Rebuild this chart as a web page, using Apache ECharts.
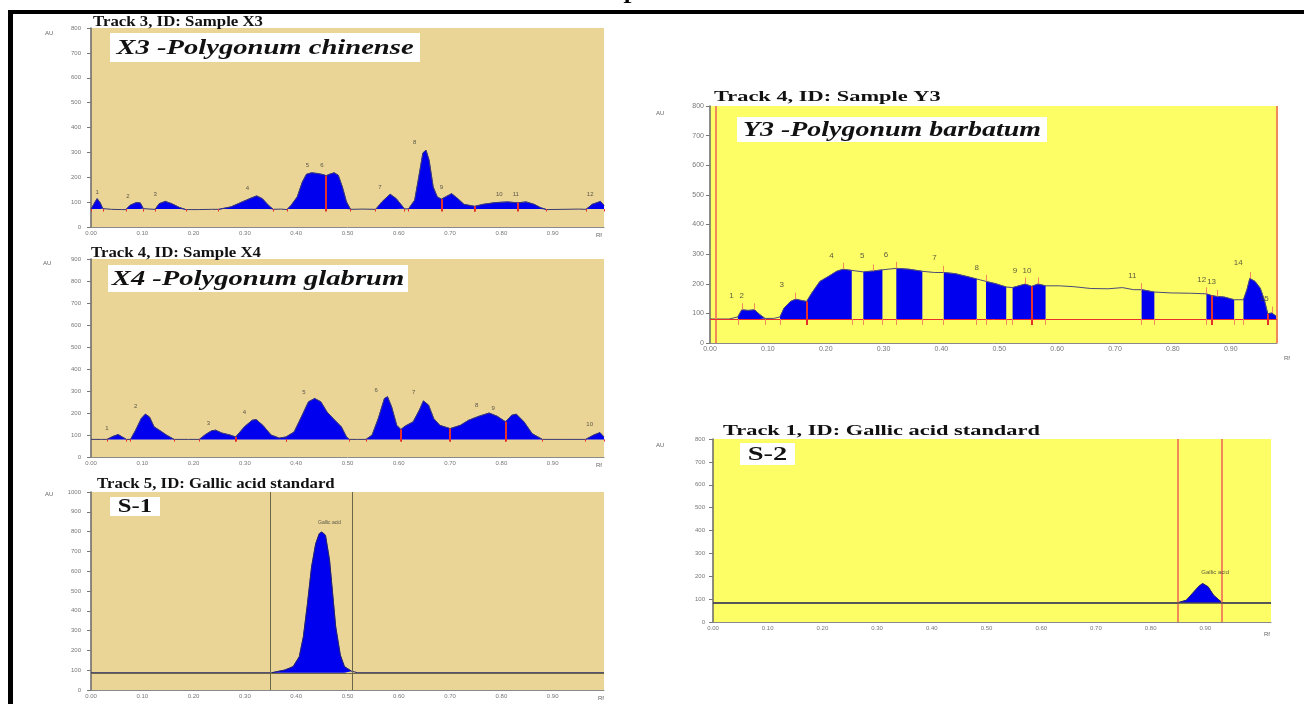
<!DOCTYPE html>
<html>
<head>
<meta charset="utf-8">
<script src="https://cdn.jsdelivr.net/npm/echarts@6/dist/echarts.min.js"></script>
<style>
  html, body { margin: 0; padding: 0; background: #fff; }
  #chart { width: 1304px; height: 704px; }
</style>
</head>
<body>
<div id="chart"></div>
<script>
// ---------- tick labels ----------
const rfTickLabels = ['0.00', '0.10', '0.20', '0.30', '0.40', '0.50', '0.60', '0.70', '0.80', '0.90']
const auTickLabels = ['0', '100', '200', '300', '400', '500', '600', '700', '800', '900', '1000']

// ---------- X3 Polygonum chinense ----------
const x3Rf = [0.0, 0.008, 0.012, 0.018, 0.023, 0.04, 0.06, 0.068, 0.076, 0.088, 0.096, 0.102, 0.115, 0.125, 0.133, 0.145, 0.157, 0.173, 0.185, 0.21, 0.235, 0.249, 0.273, 0.297, 0.314, 0.323, 0.334, 0.346, 0.355, 0.37, 0.382, 0.39, 0.402, 0.412, 0.42, 0.43, 0.442, 0.454, 0.458, 0.465, 0.474, 0.482, 0.49, 0.498, 0.506, 0.53, 0.555, 0.567, 0.583, 0.595, 0.611, 0.619, 0.631, 0.639, 0.647, 0.653, 0.659, 0.667, 0.675, 0.683, 0.691, 0.703, 0.715, 0.727, 0.748, 0.764, 0.788, 0.812, 0.832, 0.848, 0.864, 0.876, 0.888, 0.92, 0.95, 0.965, 0.977, 0.993, 1.0]
const x3Au = [72, 101, 114, 97, 74, 71, 70, 70, 87, 98, 97, 74, 72, 71, 94, 103, 94, 78, 70, 70, 71, 71, 81, 103, 118, 125, 114, 87, 71, 72, 70, 87, 121, 181, 212, 218, 215, 210, 206, 212, 218, 208, 161, 101, 71, 72, 71, 101, 132, 114, 73, 73, 108, 202, 298, 309, 269, 161, 121, 112, 121, 134, 114, 91, 83, 91, 98, 101, 97, 101, 91, 78, 70, 71, 72, 71, 91, 103, 87]
const x3Windows = [[0.0, 0.023], [0.068, 0.102], [0.125, 0.185], [0.249, 0.355], [0.382, 0.506], [0.555, 0.611], [0.619, 0.748], [0.748, 0.888], [0.965, 1.0]]
const x3Splits = [0.458, 0.683, 0.748, 0.832]
const x3PeakRf = [0.012, 0.072, 0.125, 0.305, 0.422, 0.45, 0.563, 0.631, 0.683, 0.796, 0.828, 0.973]
const x3PeakAu = [140, 124, 132, 155, 249, 249, 161, 339, 161, 130, 130, 130]
const x3PeakNames = ['1', '2', '3', '4', '5', '6', '7', '8', '9', '10', '11', '12']

// ---------- X4 Polygonum glabrum ----------
const x4Rf = [0.0, 0.02, 0.031, 0.043, 0.053, 0.061, 0.069, 0.077, 0.087, 0.098, 0.106, 0.114, 0.123, 0.135, 0.147, 0.162, 0.19, 0.211, 0.223, 0.235, 0.243, 0.255, 0.271, 0.282, 0.299, 0.314, 0.322, 0.335, 0.351, 0.367, 0.38, 0.396, 0.41, 0.424, 0.436, 0.448, 0.46, 0.472, 0.488, 0.498, 0.504, 0.52, 0.536, 0.548, 0.56, 0.572, 0.578, 0.586, 0.596, 0.604, 0.612, 0.628, 0.64, 0.648, 0.658, 0.668, 0.68, 0.7, 0.72, 0.736, 0.756, 0.776, 0.792, 0.808, 0.82, 0.829, 0.844, 0.86, 0.88, 0.92, 0.964, 0.98, 0.992, 1.0]
const x4Au = [80, 80, 80, 94, 102, 91, 80, 80, 122, 175, 195, 182, 137, 119, 100, 80, 80, 80, 102, 119, 122, 109, 100, 91, 137, 167, 170, 144, 100, 86, 91, 114, 182, 251, 266, 251, 205, 175, 137, 91, 80, 80, 80, 100, 175, 266, 274, 228, 144, 125, 140, 160, 213, 255, 236, 175, 144, 129, 144, 167, 185, 200, 185, 160, 190, 195, 160, 106, 80, 80, 80, 100, 111, 91]
const x4Windows = [[0.031, 0.069], [0.077, 0.162], [0.211, 0.282], [0.282, 0.38], [0.38, 0.504], [0.536, 0.604], [0.604, 0.7], [0.7, 0.808], [0.808, 0.88], [0.964, 1.0]]
const x4Splits = [0.282, 0.604, 0.7, 0.808]
const x4PeakRf = [0.031, 0.087, 0.229, 0.299, 0.415, 0.556, 0.629, 0.752, 0.784, 0.972]
const x4PeakAu = [132, 228, 155, 205, 296, 304, 292, 236, 223, 147]
const x4PeakNames = ['1', '2', '3', '4', '5', '6', '7', '8', '9', '10']

// ---------- S-1 Gallic acid standard (track 5) ----------
const s1Rf = [0.0, 0.3, 0.352, 0.378, 0.394, 0.406, 0.414, 0.422, 0.43, 0.438, 0.445, 0.45, 0.457, 0.465, 0.471, 0.477, 0.486, 0.494, 0.508, 0.52, 1.0]
const s1Au = [87, 87, 87, 101, 118, 168, 269, 437, 622, 739, 790, 798, 782, 655, 487, 319, 176, 118, 95, 87, 87]
const s1Windows = [[0.352, 0.508]]
const s1Lines = [0.352, 0.508]

// ---------- Y3 Polygonum barbatum ----------
const y3Rf = [0.0, 0.033, 0.048, 0.055, 0.066, 0.077, 0.086, 0.095, 0.11, 0.121, 0.128, 0.139, 0.148, 0.157, 0.167, 0.176, 0.19, 0.205, 0.219, 0.23, 0.245, 0.265, 0.282, 0.298, 0.322, 0.344, 0.367, 0.388, 0.404, 0.424, 0.443, 0.461, 0.477, 0.494, 0.512, 0.523, 0.545, 0.556, 0.567, 0.58, 0.604, 0.629, 0.658, 0.688, 0.713, 0.732, 0.746, 0.768, 0.797, 0.83, 0.858, 0.867, 0.876, 0.889, 0.906, 0.922, 0.928, 0.933, 0.942, 0.951, 0.958, 0.964, 0.971, 0.979, 0.984]
const y3Au = [81, 81, 88, 112, 110, 112, 96, 83, 83, 88, 118, 140, 148, 144, 140, 169, 208, 225, 242, 249, 245, 240, 243, 247, 252, 249, 242, 238, 238, 234, 225, 216, 208, 200, 189, 187, 199, 191, 199, 193, 193, 190, 184, 183, 187, 180, 180, 172, 169, 168, 166, 160, 157, 155, 146, 146, 180, 218, 208, 185, 146, 99, 101, 90, 83]
const y3Windows = [[0.048, 0.095], [0.121, 0.167], [0.167, 0.245], [0.265, 0.298], [0.322, 0.367], [0.404, 0.461], [0.477, 0.512], [0.523, 0.58], [0.746, 0.768], [0.858, 0.906], [0.922, 0.964], [0.964, 0.984]]
const y3Splits = [0.167, 0.556, 0.867, 0.964]
const y3Lines = [0.013, 0.98]
const y3ApexRf = [0.055, 0.077, 0.148, 0.23, 0.282, 0.322, 0.404, 0.477, 0.545, 0.567, 0.746, 0.858, 0.876, 0.933, 0.971]
const y3PeakRf = [0.037, 0.055, 0.124, 0.21, 0.263, 0.304, 0.388, 0.461, 0.527, 0.548, 0.73, 0.85, 0.867, 0.913, 0.958]
const y3PeakAu = [160, 160, 197, 294, 294, 297, 287, 253, 245, 245, 227, 213, 208, 270, 148]
const y3PeakNames = ['1', '2', '3', '4', '5', '6', '7', '8', '9', '10', '11', '12', '13', '14', '15']

// ---------- S-2 Gallic acid standard (track 1) ----------
const s2Rf = [0.0, 0.8, 0.848, 0.865, 0.876, 0.888, 0.895, 0.905, 0.915, 0.927, 0.934, 1.02]
const s2Au = [83, 83, 83, 95, 124, 156, 168, 154, 117, 92, 83, 83]
const s2Windows = [[0.848, 0.934]]
const s2Lines = [0.848, 0.934]

// ---------- styles ----------
const TAN = '#ead596'
const YELLOW = '#fdfd66'
const BLUE = '#0000ee'
const RED = '#e8302a'
const ORANGE = '#f08a5a'

const grids = [
    { left: 91, top: 28, width: 513, height: 199, bg: TAN },   // X3
    { left: 91, top: 259, width: 513, height: 198, bg: TAN },  // X4
    { left: 91, top: 492, width: 513, height: 198, bg: TAN },  // S-1
    { left: 710, top: 106, width: 567, height: 237, bg: YELLOW }, // Y3
    { left: 713, top: 439, width: 558, height: 183, bg: YELLOW }  // S-2
]
const xMax = [1.0, 1.0, 1.0, 0.98, 1.02]
const yMax = [800, 900, 1000, 800, 800]
const labelSize = [6, 6, 6, 7, 6]
const labelMargin = [10, 10, 10, 6, 8]

function zip(a, b) {
    return a.map((v, i) => [v, b[i]])
}

function auAt(rf, au, x) {
    return au[rf.indexOf(x)]
}

let series = []

function addTrace(gi, rf, au, windows, base, lineColor) {
    let pts = zip(rf, au)
    windows.forEach(w => {
        series.push({
            type: 'line', xAxisIndex: gi, yAxisIndex: gi, symbol: 'none', silent: true,
            data: pts.filter(p => p[0] >= w[0] - 1e-9 && p[0] <= w[1] + 1e-9),
            lineStyle: { width: 0.6, color: BLUE },
            areaStyle: { color: BLUE, opacity: 1, origin: base },
            z: 3
        })
    })
    series.push({
        type: 'line', xAxisIndex: gi, yAxisIndex: gi, symbol: 'none', silent: true,
        data: pts, lineStyle: { width: 1, color: lineColor }, z: 4
    })
}

function markSeries(gi, color, width, data) {
    series.push({
        type: 'line', xAxisIndex: gi, yAxisIndex: gi, data: [], silent: true,
        markLine: { symbol: 'none', silent: true, animation: false, label: { show: false }, lineStyle: { color: color, width: width, type: 'solid' }, data: data }
    })
}

function addMarks(gi, rf, au, windows, splits, base, tickColor, tickLen) {
    let lines = []
    // little brackets under the baseline at each window edge
    windows.forEach(w => {
        w.forEach(e => lines.push([{ coord: [e, base] }, { coord: [e, base - tickLen] }]))
    })
    markSeries(gi, tickColor, 1, lines)
    // red separators from below the baseline up to the curve
    markSeries(gi, RED, 2, splits.map(s => [{ coord: [s, base - tickLen] }, { coord: [s, auAt(rf, au, s)] }]))
}

function addPeakNames(gi, rf, au, names, size) {
    series.push({
        type: 'scatter', xAxisIndex: gi, yAxisIndex: gi, symbolSize: 1, silent: true,
        itemStyle: { color: 'rgba(0,0,0,0)' }, z: 6,
        data: zip(rf, au),
        label: { show: true, position: 'inside', fontSize: size, color: '#333', fontFamily: 'Liberation Sans', formatter: p => names[p.dataIndex] }
    })
}

// X3
addTrace(0, x3Rf, x3Au, x3Windows, 72, '#3a3a70')
addMarks(0, x3Rf, x3Au, x3Windows, x3Splits, 72, RED, 10)
addPeakNames(0, x3PeakRf, x3PeakAu, x3PeakNames, 6)
// X4
addTrace(1, x4Rf, x4Au, x4Windows, 80, '#3a3a70')
addMarks(1, x4Rf, x4Au, x4Windows, x4Splits, 80, RED, 10)
addPeakNames(1, x4PeakRf, x4PeakAu, x4PeakNames, 6)
// S-1
markSeries(2, '#6a6648', 1, s1Lines.map(x => ({ xAxis: x })))
markSeries(2, '#6a6648', 1, [{ yAxis: 87 }])
addTrace(2, s1Rf, s1Au, s1Windows, 87, '#22226a')
addPeakNames(2, [0.465], [845], ['Gallic acid'], 5)
// Y3
markSeries(3, ORANGE, 2, y3Lines.map(x => ({ xAxis: x })))
markSeries(3, RED, 1, [{ yAxis: 81 }])
addTrace(3, y3Rf, y3Au, y3Windows, 81, '#4a4a7a')
addMarks(3, y3Rf, y3Au, y3Windows, y3Splits, 81, ORANGE, 20)
markSeries(3, ORANGE, 1, y3ApexRf.map(x => [{ coord: [x, auAt(y3Rf, y3Au, x)] }, { coord: [x, auAt(y3Rf, y3Au, x) + 22] }]))
addPeakNames(3, y3PeakRf, y3PeakAu, y3PeakNames, 8)
// S-2
markSeries(4, ORANGE, 2, s2Lines.map(x => ({ xAxis: x })))
markSeries(4, '#444455', 1.5, [{ yAxis: 83 }])
addTrace(4, s2Rf, s2Au, s2Windows, 83, '#22226a')
addPeakNames(4, [0.918], [215], ['Gallic acid'], 6)

const titleFont = 'bold 14px "Liberation Serif"'
const boxFont = 'italic bold 22px "Liberation Serif"'

function titleText(x, y, text, sx) {
    return { type: 'text', x: x, y: y, scaleX: sx, style: { text: text, font: titleFont, fill: '#111', textVerticalAlign: 'middle' } }
}

function boxText(x, y, w, h, text, font, sx) {
    return {
        type: 'group', children: [
            { type: 'rect', shape: { x: x, y: y, width: w, height: h }, style: { fill: '#fff' } },
            { type: 'text', x: x + w / 2, y: y + h / 2 + 1, scaleX: sx, style: { text: text, font: font, fill: '#111', textAlign: 'center', textVerticalAlign: 'middle' } }
        ]
    }
}

function smallText(x, y, text) {
    return { type: 'text', x: x, y: y, style: { text: text, font: '6px "Liberation Sans"', fill: '#666', textVerticalAlign: 'middle' } }
}

const option = {
    animation: false,
    backgroundColor: '#fff',
    grid: grids.map(g => ({ left: g.left, top: g.top, width: g.width, height: g.height, show: true, backgroundColor: g.bg, borderWidth: 0 })),
    xAxis: grids.map((g, i) => ({
        type: 'value', gridIndex: i, min: 0, max: xMax[i], interval: 0.1,
        axisLine: { show: true, lineStyle: { color: '#8a8a8a', width: 1 } },
        axisTick: { show: false },
        splitLine: { show: false },
        axisLabel: {
            fontSize: labelSize[i], color: '#777', margin: 3, fontFamily: 'Liberation Sans',
            formatter: v => rfTickLabels[Math.round(v * 10)] || ''
        }
    })),
    yAxis: grids.map((g, i) => ({
        type: 'value', gridIndex: i, min: 0, max: yMax[i], interval: 100,
        axisLine: { show: true, lineStyle: { color: '#666', width: 1.5 } },
        axisTick: { show: true, length: 4, lineStyle: { color: '#777' } },
        splitLine: { show: false },
        axisLabel: {
            fontSize: labelSize[i], color: '#777', margin: labelMargin[i], fontFamily: 'Liberation Sans',
            formatter: v => auTickLabels[Math.round(v / 100)]
        }
    })),
    series: series,
    graphic: [
        // frame
        { type: 'rect', shape: { x: 8, y: 10, width: 1296, height: 4 }, style: { fill: '#000' }, z: 10 },
        { type: 'rect', shape: { x: 8, y: 10, width: 5, height: 694 }, style: { fill: '#000' }, z: 10 },
        { type: 'text', x: 630, y: 8, style: { text: 'P', font: 'bold 22px "Liberation Serif"', fill: '#000', textAlign: 'center', textVerticalAlign: 'bottom' } },
        // panel titles
        titleText(93, 22, 'Track 3, ID: Sample X3', 1.2),
        titleText(91, 253, 'Track 4, ID: Sample X4', 1.2),
        titleText(97, 484, 'Track 5, ID: Gallic acid standard', 1.2),
        titleText(714, 97, 'Track 4, ID: Sample Y3', 1.6),
        titleText(723, 431, 'Track 1, ID: Gallic acid standard', 1.6),
        // labels in white boxes
        boxText(110, 33, 310, 29, 'X3 -Polygonum chinense', boxFont, 1.3),
        boxText(108, 265, 300, 27, 'X4 -Polygonum glabrum', boxFont, 1.3),
        boxText(110, 497, 50, 19, 'S-1', 'bold 19px "Liberation Serif"', 1.3),
        boxText(737, 117, 310, 25, 'Y3 -Polygonum barbatum', boxFont, 1.27),
        boxText(740, 443, 55, 22, 'S-2', 'bold 19px "Liberation Serif"', 1.5),
        // axis units
        smallText(45, 33, 'AU'), smallText(43, 263, 'AU'), smallText(45, 494, 'AU'),
        smallText(656, 113, 'AU'), smallText(656, 445, 'AU'),
        smallText(596, 235, 'Rf'), smallText(596, 465, 'Rf'), smallText(598, 698, 'Rf'),
        smallText(1284, 358, 'Rf'), smallText(1264, 634, 'Rf')
    ]
}

let myChart = echarts.init(document.getElementById('chart'))
myChart.setOption(option)
</script>
</body>
</html>
